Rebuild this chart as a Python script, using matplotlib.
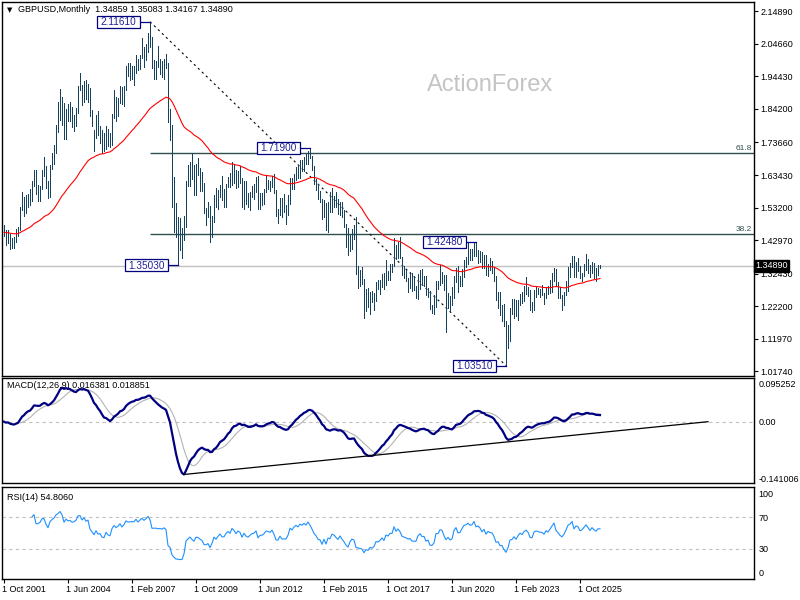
import numpy as np
import pandas as pd
import matplotlib
matplotlib.use("Agg")
import matplotlib.pyplot as plt
import matplotlib.transforms as mtransforms
from matplotlib.patches import Rectangle

plt.rcParams['font.family'] = ['Liberation Sans', 'DejaVu Sans']

# ---------------- data (monthly GBPUSD, first bar = Oct 2001) ----------------
SYMBOL_TITLE = "GBPUSD,Monthly  1.34859 1.35083 1.34167 1.34890"
MACD_TITLE = "MACD(12,26,9) 0.016381 0.018851"
RSI_TITLE = "RSI(14) 54.8060"
WATERMARK = "ActionForex"

HIGHS = [
    1.4770, 1.4620, 1.4600,
    1.4500, 1.4350, 1.4400, 1.4650, 1.4700, 1.5340, 1.5800, 1.5650, 1.5730, 1.5740, 1.5900, 1.6140,
    1.6510, 1.6490, 1.6020, 1.6000, 1.6500, 1.6900, 1.6640, 1.6170, 1.6650, 1.7040, 1.7290, 1.7900,
    1.8640, 1.9050, 1.8790, 1.8600, 1.8420, 1.8560, 1.8650, 1.8480, 1.8220, 1.8460, 1.9150, 1.9550,
    1.9170, 1.9300, 1.9320, 1.9200, 1.9080, 1.8400, 1.7760, 1.8240, 1.8370, 1.7880, 1.7760, 1.7650,
    1.7890, 1.7800, 1.7660, 1.8260, 1.9000, 1.8800, 1.8750, 1.9130, 1.9100, 1.9140, 1.9780, 1.9850,
    1.9850, 1.9780, 1.9770, 2.0130, 2.0000, 2.0110, 2.0650, 2.0370, 2.0450, 2.0800, 2.1161, 2.0690,
    1.9970, 1.9930, 2.0400, 1.9980, 1.9920, 2.0000, 2.0160, 1.9860, 1.8430, 1.7930, 1.6270, 1.5470,
    1.5010, 1.4980, 1.4690, 1.5040, 1.6170, 1.6660, 1.6740, 1.7040, 1.6650, 1.6690, 1.6880, 1.6560,
    1.6450, 1.6090, 1.5300, 1.5500, 1.5360, 1.5060, 1.5720, 1.5950, 1.5860, 1.6030, 1.6300, 1.5900,
    1.6060, 1.6280, 1.6400, 1.6750, 1.6690, 1.6490, 1.6470, 1.6620, 1.6250, 1.6160, 1.6170, 1.5780,
    1.5810, 1.5990, 1.6060, 1.6290, 1.6300, 1.5780, 1.5780, 1.5910, 1.6310, 1.6190, 1.6170, 1.6310,
    1.6380, 1.5880, 1.5260, 1.5610, 1.5610, 1.5750, 1.5390, 1.5720, 1.6260, 1.6260, 1.6390, 1.6600,
    1.6670, 1.6820, 1.6800, 1.6900, 1.6990, 1.7110, 1.7190, 1.6950, 1.6640, 1.6230, 1.6070, 1.5830,
    1.5590, 1.5550, 1.5450, 1.5490, 1.5820, 1.5930, 1.5680, 1.5820, 1.5600, 1.5500, 1.5500, 1.5240,
    1.4790, 1.4670, 1.4460, 1.4640, 1.4770, 1.5020, 1.3480, 1.3350, 1.3440, 1.3060, 1.2770, 1.2780,
    1.2670, 1.2710, 1.2620, 1.2970, 1.3050, 1.3030, 1.3220, 1.3270, 1.3660, 1.3340, 1.3550, 1.3550,
    1.4350, 1.4150, 1.4240, 1.4380, 1.3780, 1.3470, 1.3360, 1.3100, 1.3300, 1.3260, 1.3180, 1.2840,
    1.3220, 1.3350, 1.3380, 1.3180, 1.3170, 1.2780, 1.2710, 1.2250, 1.2580, 1.3010, 1.3000, 1.3510,
    1.3280, 1.3210, 1.3200, 1.2650, 1.2530, 1.2810, 1.3170, 1.3410, 1.3480, 1.3180, 1.3400, 1.3680,
    1.3760, 1.4241, 1.4020, 1.4010, 1.4234, 1.4248, 1.3980, 1.3960, 1.3910, 1.3830, 1.3830, 1.3540,
    1.3750, 1.3640, 1.3440, 1.3170, 1.2670, 1.2670, 1.2250, 1.2290, 1.1740, 1.1640, 1.2150, 1.2450,
    1.2450, 1.2420, 1.2420, 1.2590, 1.2680, 1.2850, 1.3140, 1.2820, 1.2720, 1.2340, 1.2730, 1.2830,
    1.2780, 1.2770, 1.2890, 1.2640, 1.2800, 1.2860, 1.3040, 1.3260, 1.3430, 1.3390, 1.2990, 1.2810,
    1.2570, 1.2660, 1.3010, 1.3440, 1.3590, 1.3790, 1.3790, 1.3600, 1.3730, 1.3470, 1.3270, 1.3550,
    1.3860, 1.3700, 1.3510, 1.3620, 1.3570, 1.3410, 1.3510, 1.35083,
]
LOWS = [
    1.4420, 1.4150, 1.4220,
    1.4020, 1.4050, 1.4040, 1.4240, 1.4440, 1.4600, 1.5230, 1.5040, 1.5160, 1.5340, 1.5390, 1.5520,
    1.6000, 1.5760, 1.5520, 1.5540, 1.5900, 1.6320, 1.5920, 1.5630, 1.5640, 1.6520, 1.6700, 1.7050,
    1.7700, 1.8060, 1.7910, 1.7460, 1.7480, 1.8050, 1.8030, 1.7860, 1.7740, 1.7880, 1.8300, 1.9010,
    1.8550, 1.8640, 1.8740, 1.8650, 1.8190, 1.7880, 1.7100, 1.7500, 1.7590, 1.7360, 1.7040, 1.7110,
    1.7150, 1.7260, 1.7220, 1.7300, 1.8120, 1.8050, 1.8200, 1.8620, 1.8560, 1.8500, 1.9020, 1.9440,
    1.9340, 1.9360, 1.9180, 1.9540, 1.9640, 1.9660, 2.0010, 1.9740, 1.9950, 2.0210, 2.0370, 1.9710,
    1.9350, 1.9360, 1.9750, 1.9530, 1.9410, 1.9360, 1.9720, 1.8000, 1.7450, 1.5350, 1.4550, 1.4410,
    1.3503, 1.3990, 1.3730, 1.4300, 1.4710, 1.6010, 1.6010, 1.6220, 1.5710, 1.5710, 1.6350, 1.5850,
    1.5830, 1.5150, 1.4780, 1.5030, 1.4230, 1.4380, 1.4860, 1.5340, 1.5290, 1.5650, 1.5550, 1.5340,
    1.5350, 1.5980, 1.5980, 1.6020, 1.6080, 1.5930, 1.5960, 1.6080, 1.5330, 1.5280, 1.5420, 1.5340,
    1.5230, 1.5640, 1.5600, 1.5810, 1.5270, 1.5270, 1.5390, 1.5420, 1.5820, 1.5910, 1.5830, 1.5980,
    1.5770, 1.5060, 1.4830, 1.5080, 1.5010, 1.5190, 1.4810, 1.5100, 1.5420, 1.5900, 1.5910, 1.6200,
    1.6250, 1.6250, 1.6460, 1.6480, 1.6680, 1.6690, 1.6870, 1.6510, 1.6050, 1.5870, 1.5590, 1.5480,
    1.4950, 1.5030, 1.4630, 1.4560, 1.5170, 1.5170, 1.5330, 1.5330, 1.5110, 1.5100, 1.5010, 1.4720,
    1.4080, 1.3840, 1.3940, 1.4010, 1.4330, 1.3230, 1.2800, 1.2870, 1.2910, 1.1840, 1.2080, 1.2200,
    1.1990, 1.2340, 1.2110, 1.2370, 1.2770, 1.2590, 1.2810, 1.2770, 1.2880, 1.3030, 1.3040, 1.3300,
    1.3480, 1.3710, 1.3720, 1.3730, 1.3200, 1.3100, 1.3010, 1.2660, 1.2790, 1.2700, 1.2720, 1.2480,
    1.2440, 1.2770, 1.2960, 1.2870, 1.2560, 1.2500, 1.2120, 1.2020, 1.1960, 1.2200, 1.2770, 1.2900,
    1.2960, 1.2720, 1.1410, 1.2160, 1.2070, 1.2250, 1.2480, 1.2990, 1.2680, 1.2860, 1.2850, 1.3140,
    1.3450, 1.3560, 1.3670, 1.3670, 1.3800, 1.3790, 1.3570, 1.3600, 1.3410, 1.3410, 1.3190, 1.3160,
    1.3350, 1.3270, 1.3000, 1.2410, 1.2150, 1.1930, 1.1760, 1.1600, 1.0351, 1.0920, 1.1140, 1.1990,
    1.1840, 1.1910, 1.1800, 1.2270, 1.2310, 1.2370, 1.2590, 1.2550, 1.2110, 1.2040, 1.2100, 1.2500,
    1.2600, 1.2520, 1.2580, 1.2300, 1.2470, 1.2610, 1.2620, 1.2660, 1.3000, 1.2840, 1.2470, 1.2470,
    1.2100, 1.2250, 1.2570, 1.2710, 1.3140, 1.3450, 1.3140, 1.3140, 1.3330, 1.3100, 1.3010, 1.3180,
    1.3350, 1.3250, 1.3150, 1.3250, 1.3120, 1.3000, 1.3200, 1.34167,
]
CLOSES = [
    1.4540, 1.4250, 1.4550,
    1.4100, 1.4220, 1.4250, 1.4570, 1.4630, 1.5330, 1.5590, 1.5350, 1.5680, 1.5640, 1.5530, 1.6100,
    1.6470, 1.5790, 1.5800, 1.5970, 1.6500, 1.6510, 1.6090, 1.5790, 1.6610, 1.6950, 1.7220, 1.7850,
    1.8160, 1.8650, 1.8400, 1.7720, 1.8300, 1.8140, 1.8190, 1.8040, 1.8090, 1.8350, 1.9120, 1.9180,
    1.8830, 1.9200, 1.8920, 1.9080, 1.8240, 1.7920, 1.7580, 1.8070, 1.7650, 1.7720, 1.7270, 1.7200,
    1.7790, 1.7480, 1.7370, 1.8250, 1.8700, 1.8480, 1.8680, 1.9050, 1.8720, 1.9080, 1.9700, 1.9580,
    1.9630, 1.9650, 1.9650, 2.0000, 1.9790, 2.0080, 2.0330, 2.0190, 2.0430, 2.0780, 2.0550, 1.9850,
    1.9870, 1.9870, 1.9820, 1.9850, 1.9800, 1.9910, 1.9800, 1.8200, 1.7880, 1.6180, 1.5360, 1.4590,
    1.4480, 1.4320, 1.4330, 1.4800, 1.6160, 1.6460, 1.6700, 1.6280, 1.5980, 1.6480, 1.6440, 1.6160,
    1.5980, 1.5240, 1.5180, 1.5300, 1.4520, 1.4960, 1.5690, 1.5350, 1.5720, 1.6020, 1.5590, 1.5600,
    1.6020, 1.6260, 1.6040, 1.6700, 1.6460, 1.6060, 1.6400, 1.6240, 1.5590, 1.6080, 1.5690, 1.5530,
    1.5760, 1.5930, 1.6000, 1.6250, 1.5410, 1.5680, 1.5710, 1.5860, 1.6160, 1.6120, 1.6020, 1.6250,
    1.5860, 1.5190, 1.5190, 1.5530, 1.5190, 1.5210, 1.5200, 1.5500, 1.6190, 1.6040, 1.6370, 1.6560,
    1.6430, 1.6750, 1.6670, 1.6880, 1.6760, 1.7100, 1.6880, 1.6590, 1.6210, 1.6000, 1.5640, 1.5580,
    1.5050, 1.5440, 1.4820, 1.5350, 1.5280, 1.5710, 1.5620, 1.5350, 1.5120, 1.5430, 1.5060, 1.4730,
    1.4250, 1.3920, 1.4370, 1.4620, 1.4490, 1.3310, 1.3210, 1.3130, 1.2980, 1.2230, 1.2470, 1.2340,
    1.2580, 1.2410, 1.2550, 1.2940, 1.2880, 1.3020, 1.3210, 1.2930, 1.3400, 1.3280, 1.3530, 1.3510,
    1.4190, 1.3770, 1.4030, 1.3770, 1.3300, 1.3200, 1.3120, 1.2990, 1.3030, 1.2760, 1.2750, 1.2750,
    1.3110, 1.3260, 1.3030, 1.3040, 1.2630, 1.2700, 1.2170, 1.2160, 1.2300, 1.2940, 1.2930, 1.3250,
    1.3210, 1.2790, 1.2420, 1.2590, 1.2340, 1.2400, 1.3090, 1.3370, 1.2910, 1.2950, 1.3330, 1.3670,
    1.3740, 1.3930, 1.3780, 1.3830, 1.4180, 1.3820, 1.3900, 1.3760, 1.3470, 1.3680, 1.3300, 1.3530,
    1.3440, 1.3420, 1.3130, 1.2570, 1.2610, 1.2160, 1.2170, 1.1620, 1.1170, 1.1460, 1.2050, 1.2090,
    1.2320, 1.2050, 1.2340, 1.2570, 1.2440, 1.2700, 1.2840, 1.2670, 1.2200, 1.2150, 1.2630, 1.2730,
    1.2690, 1.2630, 1.2620, 1.2490, 1.2740, 1.2650, 1.2860, 1.3120, 1.3380, 1.2900, 1.2730, 1.2520,
    1.2400, 1.2580, 1.2910, 1.3330, 1.3460, 1.3720, 1.3210, 1.3510, 1.3450, 1.3150, 1.3230, 1.3450,
    1.3700, 1.3500, 1.3300, 1.3550, 1.3400, 1.3300, 1.3486, 1.34890,
]
LAST_PRICE = 1.34890
LAST_PRICE_LABEL = "1.34890"

PRICE_TICKS = [2.14890, 2.04660, 1.94430, 1.84200, 1.73660, 1.63430,
               1.53200, 1.42970, 1.32430, 1.22200, 1.11970, 1.01740]
DATE_LABELS = ["1 Oct 2001", "1 Jun 2004", "1 Feb 2007", "1 Oct 2009", "1 Jun 2012",
               "1 Feb 2015", "1 Oct 2017", "1 Jun 2020", "1 Feb 2023", "1 Oct 2025"]
DATE_LABEL_STEP = 32                     # months between date labels
ANNOTATED_BARS = [(73, "high"), (87, "low"), (153, "high"), (236, "high"), (251, "low")]
FIB_LEVELS = [61.8, 38.2]
MA_SPAN = 55
MACD_FAST, MACD_SLOW, MACD_SIGNAL = 12, 26, 9
RSI_PERIOD = 14
MACD_TICKS = [0.095252, 0.0, -0.141006]
MACD_TICK_LABELS = ["0.095252", "0.00", "-0.141006"]
MACD_TREND_END = (352, 0.0)
RSI_TICKS = [100, 70, 30, 0]
RSI_LEVELS = [70, 30]

# ---------------- indicators ----------------
n = len(CLOSES)
assert len(HIGHS) == n and len(LOWS) == n, (len(HIGHS), len(LOWS), n)
idx = np.arange(n)
hi = np.array(HIGHS)
lo = np.array(LOWS)
cl = pd.Series(CLOSES)

ma = cl.ewm(span=MA_SPAN, adjust=False).mean()
macd = cl.ewm(span=MACD_FAST, adjust=False).mean() - cl.ewm(span=MACD_SLOW, adjust=False).mean()
signal = macd.rolling(MACD_SIGNAL).mean()

diff = np.diff(cl.values)
gain = np.clip(diff, 0, None)
loss = np.clip(-diff, 0, None)
rsi = np.full(n, np.nan)
ag = gain[:RSI_PERIOD].mean()
al = loss[:RSI_PERIOD].mean()
rsi[RSI_PERIOD] = 100 - 100 / (1 + ag / al)
for i in range(RSI_PERIOD + 1, n):
    ag = (ag * (RSI_PERIOD - 1) + gain[i - 1]) / RSI_PERIOD
    al = (al * (RSI_PERIOD - 1) + loss[i - 1]) / RSI_PERIOD
    rsi[i] = 100 - 100 / (1 + ag / al)

# ---------------- figure ----------------
W, H = 800, 600
fig = plt.figure(figsize=(8, 6), dpi=100)
fig.patch.set_facecolor("white")


def px_axes(left, top, right, bottom):
    return fig.add_axes([left / W, 1 - bottom / H, (right - left) / W, (bottom - top) / H])


ax = px_axes(2, 2, 754, 376)
axm = px_axes(2, 378, 754, 483)
axr = px_axes(2, 487, 754, 579)

XL = (-1, 375)
BAR_COLOR = "#15425e"
FS = 6.5

for a in (ax, axm, axr):
    a.set_xlim(*XL)
    for s in a.spines.values():
        s.set_color("black")
        s.set_linewidth(1.0)
    a.yaxis.tick_right()
    a.tick_params(axis="y", labelsize=FS, pad=1.5, colors="black")

# ---- main price panel ----
ax.set_ylim(1.0027, 2.1781)
ax.set_xticks([])
ax.set_yticks(PRICE_TICKS)
ax.set_yticklabels([f"{v:.5f}" for v in PRICE_TICKS])
ax.tick_params(axis="y", length=3, width=0.8, direction="out")

ax.axhline(LAST_PRICE, color="#c0c0c0", lw=1.0, zorder=1)

imax = int(np.argmax(hi))
imin = int(np.argmin(lo))
top, bot = hi[imax], lo[imin]
for f in FIB_LEVELS:
    lev = bot + f / 100 * (top - bot)
    ax.hlines(lev, imax, XL[1], color="#2f4f4f", lw=1.0, zorder=2)
    ax.text(XL[1] - 0.8, lev + 0.004, f"{f:.1f}", ha="right", va="bottom",
            fontsize=6, color="#2f4f4f")

ax.plot([imax, imin], [top, bot], color="black", lw=0.8, dashes=(2, 3), zorder=3)

ax.vlines(idx, lo, hi, color=BAR_COLOR, lw=0.72, antialiased=False, zorder=4)
ax.plot(idx, ma, color="#ff0000", lw=0.8, zorder=5)

# swing-point labels
yr = ax.get_ylim()
ppx = (yr[1] - yr[0]) / 374.0        # price per pixel
for bi, kind in ANNOTATED_BARS:
    val = hi[bi] if kind == "high" else lo[bi]
    xr = bi - 5
    ax.plot([xr, bi], [val, val], color="#000080", lw=0.9, zorder=6)
    ax.add_patch(Rectangle((xr - 21.5, val - 6 * ppx), 21.5, 12 * ppx,
                           facecolor="white", edgecolor="#000080", lw=0.9, zorder=7))
    ax.text(xr - 10.75, val - 0.3 * ppx, f"{val:.5f}", ha="center", va="center",
            fontsize=7.2, color="#20209a", zorder=8)

ax.text((490 - 2) / 752, 1 - (85 - 2) / 374, WATERMARK, transform=ax.transAxes,
        ha="center", va="center", fontsize=17, color="#c4c4c4", zorder=0)

blend = mtransforms.blended_transform_factory(ax.transAxes, ax.transData)
ax.text(1.0015, LAST_PRICE, LAST_PRICE_LABEL, transform=blend, ha="left", va="center",
        fontsize=FS, color="white", clip_on=False, zorder=10,
        bbox=dict(boxstyle="square,pad=0.18", facecolor="black", edgecolor="black"))

fig.text(7 / W, 1 - 10 / H, "\u25BC", fontsize=5, ha="left", va="center", color="black",
         family=["DejaVu Sans"])
fig.text(18 / W, 1 - 10 / H, SYMBOL_TITLE, fontsize=FS, ha="left", va="center", color="black")

# ---- MACD panel ----
axm.set_ylim(-0.151, 0.1076)
axm.set_xticks([])
axm.set_yticks(MACD_TICKS)
axm.set_yticklabels(MACD_TICK_LABELS)
axm.tick_params(axis="y", length=0, pad=3)
axm.axhline(0, color="#c0c0c0", lw=0.8, dashes=(3, 3), zorder=1)
axm.plot(idx, signal, color="#b4b4b4", lw=0.8, zorder=3)
axm.plot(idx, macd, color="#000080", lw=1.6, zorder=4)
imn = int(np.argmin(macd.values))
axm.plot([imn, MACD_TREND_END[0]], [macd.values[imn], MACD_TREND_END[1]],
         color="black", lw=0.9, zorder=5)
axm.text(5 / 752, 1 - (386 - 378) / 105, MACD_TITLE, transform=axm.transAxes,
         fontsize=FS, ha="left", va="center", color="black", zorder=2)

# ---- RSI panel ----
axr.set_ylim(-8.9, 108.6)
axr.set_yticks(RSI_TICKS)
axr.set_yticklabels([str(v) for v in RSI_TICKS])
axr.tick_params(axis="y", length=0, pad=3)
for lv in RSI_LEVELS:
    axr.axhline(lv, color="#c0c0c0", lw=0.8, dashes=(3, 3), zorder=1)
axr.plot(idx, rsi, color="#1e90ff", lw=0.8, zorder=3)
axr.text(5 / 752, 1 - (497 - 487) / 92, RSI_TITLE, transform=axr.transAxes,
         fontsize=FS, ha="left", va="center", color="black", zorder=2)

xt = [k * DATE_LABEL_STEP for k in range(len(DATE_LABELS))]
axr.set_xticks(xt)
axr.set_xticklabels(DATE_LABELS)
axr.tick_params(axis="x", length=3, width=0.8, direction="out", pad=1.5, labelsize=FS)
shift = mtransforms.ScaledTranslation(-1.5 / 100, 0, fig.dpi_scale_trans)
for lab in axr.get_xticklabels():
    lab.set_horizontalalignment("left")
    lab.set_transform(lab.get_transform() + shift)

fig.savefig("out.png", dpi=100, facecolor="white")
